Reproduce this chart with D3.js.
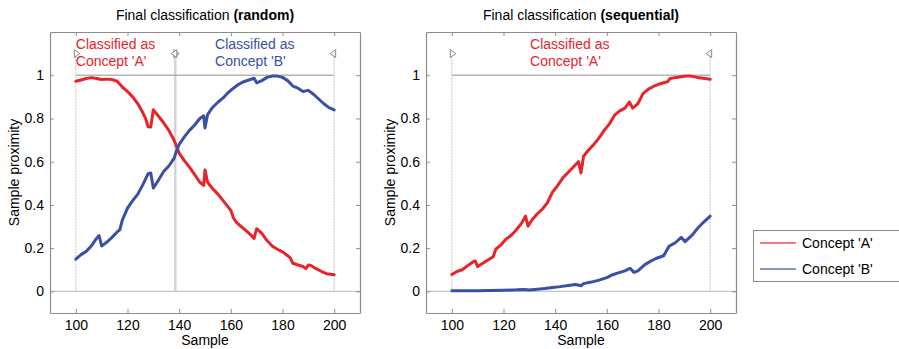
<!DOCTYPE html>
<html><head><meta charset="utf-8">
<script src="https://cdn.jsdelivr.net/npm/d3@7/dist/d3.min.js"></script>
<style>
body{margin:0;background:#fff;}
svg{display:block;font-family:"Liberation Sans",Arial,sans-serif;}
</style></head>
<body><svg id="chart" width="899" height="349"></svg>
<script>
// ---------- DATA ----------
const xTicks = [100, 120, 140, 160, 180, 200];
const yTicks = [0, 0.2, 0.4, 0.6, 0.8, 1];
const seriesNames = ["Concept 'A'", "Concept 'B'"];
const panelTitles = ["Final classification ", "Final classification "];
const panelTitlesBold = ["(random)", "(sequential)"];

const randomAX = [100,102,104,106,108,110,112,114,116,118,120,122,124,126,127,128,129,130,132,134,136,138,140,142,144,146,148,149.5,150,151,153,155,157,159,160,161,162,164,166,168,169,170,172,174,176,178,180,182,183,184,186,188,189,190,191,193,195,197,200];
const randomAY = [0.972,0.978,0.985,0.989,0.985,0.980,0.982,0.980,0.972,0.945,0.925,0.900,0.868,0.825,0.800,0.762,0.760,0.840,0.810,0.780,0.745,0.700,0.640,0.605,0.575,0.540,0.505,0.490,0.562,0.505,0.475,0.450,0.420,0.390,0.375,0.340,0.322,0.300,0.280,0.258,0.245,0.290,0.268,0.235,0.210,0.195,0.183,0.165,0.155,0.130,0.122,0.115,0.105,0.122,0.120,0.105,0.093,0.082,0.077];

const randomBX = [100,102,104,106,108,109,110,112,114,116,117,118,120,122,124,126,128,129,130,132,134,136,138,139,140,142,144,146,148,149.5,150,151,153,155,157,159,161,163,165,167,169,170,172,174,176,178,180,182,184,186,188,190,192,194,196,198,200];
const randomBY = [0.149,0.170,0.185,0.210,0.245,0.258,0.210,0.228,0.250,0.275,0.285,0.330,0.385,0.420,0.450,0.495,0.545,0.548,0.478,0.515,0.555,0.580,0.615,0.650,0.680,0.715,0.745,0.770,0.800,0.812,0.756,0.818,0.852,0.875,0.895,0.920,0.940,0.958,0.970,0.978,0.986,0.965,0.975,0.990,0.996,0.996,0.990,0.975,0.950,0.940,0.925,0.930,0.912,0.890,0.868,0.850,0.840];

const seqAX = [100,102,104,106,108,109,110,112,114,116,117,119,121,123,125,127,128.5,129.5,131,133,135,137,139,141,143,145,147,149,150,151,153,155,157,159,161,163,165,167,168.7,170,172,174,176,178,180,182,183.5,184.5,187,190,192,195,198,200];
const seqAY = [0.078,0.092,0.100,0.118,0.135,0.141,0.115,0.130,0.145,0.160,0.195,0.215,0.242,0.260,0.285,0.315,0.348,0.302,0.330,0.358,0.380,0.410,0.460,0.490,0.525,0.550,0.575,0.600,0.548,0.625,0.655,0.680,0.710,0.745,0.775,0.815,0.835,0.848,0.876,0.848,0.868,0.915,0.935,0.948,0.958,0.965,0.970,0.985,0.990,0.995,0.997,0.990,0.985,0.981];

const seqBX = [100,105,110,115,120,125,128,130,133,136,139,142,145,148,150,151,154,157,160,162,165,167,169,170.5,172,174.5,177,179,182,184,186.5,188.8,190.3,193,195,197,200];
const seqBY = [0.003,0.003,0.003,0.004,0.005,0.007,0.009,0.006,0.010,0.013,0.018,0.022,0.027,0.032,0.026,0.036,0.043,0.052,0.064,0.076,0.088,0.095,0.107,0.088,0.095,0.122,0.140,0.152,0.165,0.208,0.225,0.250,0.230,0.260,0.290,0.315,0.348];

const randomBoundaries = [100, 138.5, 200];
const seqBoundaries = [100, 200];
const annotLines = ["Classified as", "Concept 'A'", "Concept 'B'"];

// ---------- LAYOUT ----------
const svg = d3.select("#chart");
const colors = ["#e8242b", "#3a4fa6"];
const panels = [
  {left:50, right:360, title:0, series:[[randomAX,randomAY],[randomBX,randomBY]], bounds:randomBoundaries,
   annots:[{x:100, lines:[annotLines[0],annotLines[1]], c:0},{x:153.9, lines:[annotLines[0],annotLines[2]], c:1}]},
  {left:426, right:736, title:1, series:[[seqAX,seqAY],[seqBX,seqBY]], bounds:seqBoundaries,
   annots:[{x:130.3, lines:[annotLines[0],annotLines[1]], c:0}]}
];
const plotTop = 32, plotBottom = 313;

panels.forEach(p => {
  const x = d3.scaleLinear().domain([90, 210]).range([p.left, p.right]);
  const y = d3.scaleLinear().domain([-0.1, 1.2]).range([plotBottom, plotTop]);
  const g = svg.append("g");

  g.append("rect").attr("x", p.left).attr("y", plotTop).attr("width", p.right - p.left).attr("height", plotBottom - plotTop).attr("fill", "#fff");

  // reference lines
  g.append("line").attr("x1", p.left).attr("x2", p.right).attr("y1", y(0)).attr("y2", y(0))
    .attr("stroke", "#c4c4c4").attr("stroke-width", 1.3);
  g.append("line").attr("x1", x(100)).attr("x2", x(200)).attr("y1", y(1)).attr("y2", y(1))
    .attr("stroke", "#b4b4b4").attr("stroke-width", 1.3);
  p.bounds.forEach(b => {
    const inner = (b !== 100 && b !== 200);
    g.append("line").attr("x1", x(b)).attr("x2", x(b)).attr("y1", y(1.1)).attr("y2", y(0))
      .attr("stroke", inner ? "#a8a8a8" : "#d0d0d0")
      .attr("stroke-width", inner ? 2.4 : 1.3)
      .attr("stroke-dasharray", inner ? "1,1" : "2,1");
    const cy = y(1.1);
    const cx = x(b);
    const tri = [];
    if (b !== 200) tri.push(`M${cx-1.5},${cy-4} L${cx+4},${cy} L${cx-1.5},${cy+4} Z`);
    if (b !== 100) tri.push(`M${cx+1.5},${cy-4} L${cx-4},${cy} L${cx+1.5},${cy+4} Z`);
    tri.forEach(d => g.append("path").attr("d", d).attr("fill", "#fff").attr("stroke", "#8a8a8a").attr("stroke-width", 1));
  });

  // annotations
  p.annots.forEach(a => {
    const t = g.append("text").attr("x", x(a.x)).attr("y", 49).attr("fill", colors[a.c]).attr("font-size", 14);
    a.lines.forEach((l, i) => t.append("tspan").attr("x", x(a.x)).attr("dy", i === 0 ? 0 : 17).text(l));
  });

  // series lines
  const line = d3.line().x(d => x(d[0])).y(d => y(d[1]));
  p.series.forEach((s, i) => {
    const pts = s[0].map((xv, k) => [xv, s[1][k]]);
    g.append("path").datum(pts).attr("d", line).attr("fill", "none")
      .attr("stroke", colors[i]).attr("stroke-width", 3).attr("stroke-linejoin", "round").attr("stroke-linecap", "round");
  });

  // axes (box with inward ticks)
  const fmt = d => String(d);
  const axStyle = sel => {
    sel.select(".domain").attr("stroke", "#8c8c8c").attr("stroke-width", 1.2);
    sel.selectAll(".tick line").attr("stroke", "#8c8c8c");
    sel.selectAll("text").attr("font-size", 14).attr("fill", "#000").attr("font-family", '"Liberation Sans",Arial,sans-serif');
  };
  g.append("g").attr("transform", `translate(0,${plotBottom})`)
    .call(d3.axisBottom(x).tickValues(xTicks).tickSize(-4).tickSizeOuter(0).tickPadding(7).tickFormat(fmt)).call(axStyle);
  g.append("g").attr("transform", `translate(0,${plotTop})`)
    .call(d3.axisTop(x).tickValues(xTicks).tickSize(-4).tickSizeOuter(0).tickFormat("")).call(axStyle);
  g.append("g").attr("transform", `translate(${p.left},0)`)
    .call(d3.axisLeft(y).tickValues(yTicks).tickSize(-4).tickSizeOuter(0).tickPadding(6).tickFormat(fmt)).call(axStyle);
  g.append("g").attr("transform", `translate(${p.right},0)`)
    .call(d3.axisRight(y).tickValues(yTicks).tickSize(-4).tickSizeOuter(0).tickFormat("")).call(axStyle);

  // title
  const tt = svg.append("text").attr("x", (p.left + p.right) / 2).attr("y", 20).attr("text-anchor", "middle").attr("font-size", 14).attr("fill", "#000");
  tt.append("tspan").text(panelTitles[p.title]);
  tt.append("tspan").attr("font-weight", "bold").text(panelTitlesBold[p.title]);

  // axis labels
  svg.append("text").attr("x", (p.left + p.right) / 2).attr("y", 345).attr("text-anchor", "middle").attr("font-size", 14).attr("fill", "#000").text("Sample");
  svg.append("text").attr("transform", `translate(${p.left - 31},${(plotTop + plotBottom) / 2}) rotate(-90)`)
    .attr("text-anchor", "middle").attr("font-size", 14).attr("fill", "#000").text("Sample proximity");
});

// legend
const lg = svg.append("g");
lg.append("rect").attr("x", 753.5).attr("y", 230.5).attr("width", 160).attr("height", 51).attr("fill", "#fff").attr("stroke", "#8c8c8c");
seriesNames.forEach((n, i) => {
  const yy = 243 + i * 26;
  lg.append("line").attr("x1", 760).attr("x2", 796).attr("y1", yy).attr("y2", yy).attr("stroke", colors[i]).attr("stroke-width", 1.5).attr("opacity", 0.8);
  lg.append("text").attr("x", 802).attr("y", yy + 5).attr("font-size", 14).attr("fill", "#000").text(n);
});
</script>
</body></html>
